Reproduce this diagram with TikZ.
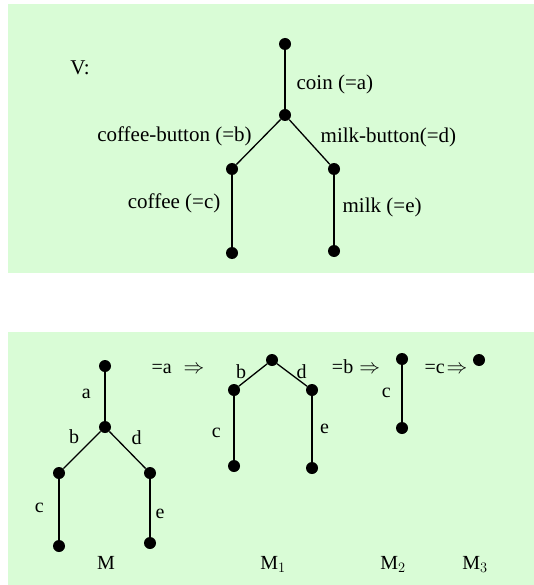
\documentclass[tikz,border=0pt]{standalone}
\usepackage{fontspec}
\setmainfont{Liberation Serif}
\usepackage{tikz}
\usetikzlibrary{positioning}
\definecolor{clrPanel}{RGB}{217,252,214}

\begin{document}
\begin{tikzpicture}[
  x=1pt, y=-1pt,
  panel/.style={fill=clrPanel, draw=none},
  dot/.style={circle, fill=black, inner sep=0pt, minimum size=12pt},
  link/.style={line width=1.3pt},
  lbl/.style={font=\fontsize{21}{25}\selectfont, inner sep=2pt},
  sml/.style={font=\fontsize{20}{24}\selectfont, inner sep=2pt},
  mname/.style={sml, anchor=base}
]
\useasboundingbox (0,0) rectangle (534,585);

% Panels
\fill[panel] (8,4) rectangle (534,273);
\fill[panel] (8,332) rectangle (534,585);

% The specification V
\node[lbl, anchor=base] (vname) at (80,75) {V:};

\node[dot] (vtop)  at (285,44)  {};
\node[dot] (vmid)  at (285,115) {};
\node[dot] (vcb)   at (232,169) {};
\node[dot] (vmb)   at (334,169) {};
\node[dot] (vcof)  at (232,253) {};
\node[dot] (vmilk) at (334,251) {};

\draw[link] (vtop) -- node[lbl, pos=0.59, right=9pt]{coin (=a)} (vmid);
\draw[link] (vmid) -- node[lbl, pos=0.37, left=10pt]{coffee-button (=b)} (vcb);
\draw[link] (vmid) -- node[lbl, pos=0.39, right=13pt]{milk-button(=d)} (vmb);
\draw[link] (vcb)  -- node[lbl, pos=0.40, left=9pt]{coffee (=c)} (vcof);
\draw[link] (vmb)  -- node[lbl, pos=0.46, right=6pt]{milk (=e)} (vmilk);

% M
\node[dot] (m0) at (105,366) {};
\node[dot] (m1) at (105,427) {};
\node[dot] (m2) at (59,473)  {};
\node[dot] (m3) at (150,473) {};
\node[dot] (m4) at (59,546)  {};
\node[dot] (m5) at (150,543) {};

\draw[link] (m0) -- node[sml, pos=0.45, left=11.5pt]{a} (m1);
\draw[link] (m1) -- node[sml, pos=0.13, left=14pt]{b} (m2);
\draw[link] (m1) -- node[sml, pos=0.18, right=13pt]{d} (m3);
\draw[link] (m2) -- node[sml, pos=0.48, left=12.5pt]{c} (m4);
\draw[link] (m3) -- node[sml, pos=0.60, right=3pt]{e} (m5);

\node[sml, anchor=base] (stepa) at (178,373) {=a\hspace{12pt}$\Rightarrow$};

% M_1
\node[dot] (ma0) at (272,360) {};
\node[dot] (ma1) at (234,390) {};
\node[dot] (ma2) at (312,390) {};
\node[dot] (ma3) at (234,466) {};
\node[dot] (ma4) at (312,468) {};

\draw[link] (ma0) -- node[sml, pos=0.37, left=8pt]{b} (ma1);
\draw[link] (ma0) -- node[sml, pos=0.37, right=6pt]{d} (ma2);
\draw[link] (ma1) -- node[sml, pos=0.58, left=10.5pt]{c} (ma3);
\draw[link] (ma2) -- node[sml, pos=0.50, right=5.5pt]{e} (ma4);

\node[sml, anchor=base] (stepb) at (356,373) {=b\hspace{6pt}$\Rightarrow$};

% M_2
\node[dot] (mb0) at (402,359) {};
\node[dot] (mb1) at (402,428) {};
\draw[link] (mb0) -- node[sml, pos=0.49, left=8.5pt]{c} (mb1);

\node[sml, anchor=base] (stepc) at (446,373) {=c\hspace{2pt}$\Rightarrow$};

% M_3
\node[dot] (mc0) at (479,360) {};

% Names
\node[mname] (nm)  at (106,569) {M};
\node[mname] (nma) at (273,569) {M$_1$};
\node[mname] (nmb) at (393,569) {M$_2$};
\node[mname] (nmc) at (475,569) {M$_3$};

\end{tikzpicture}
\end{document}
